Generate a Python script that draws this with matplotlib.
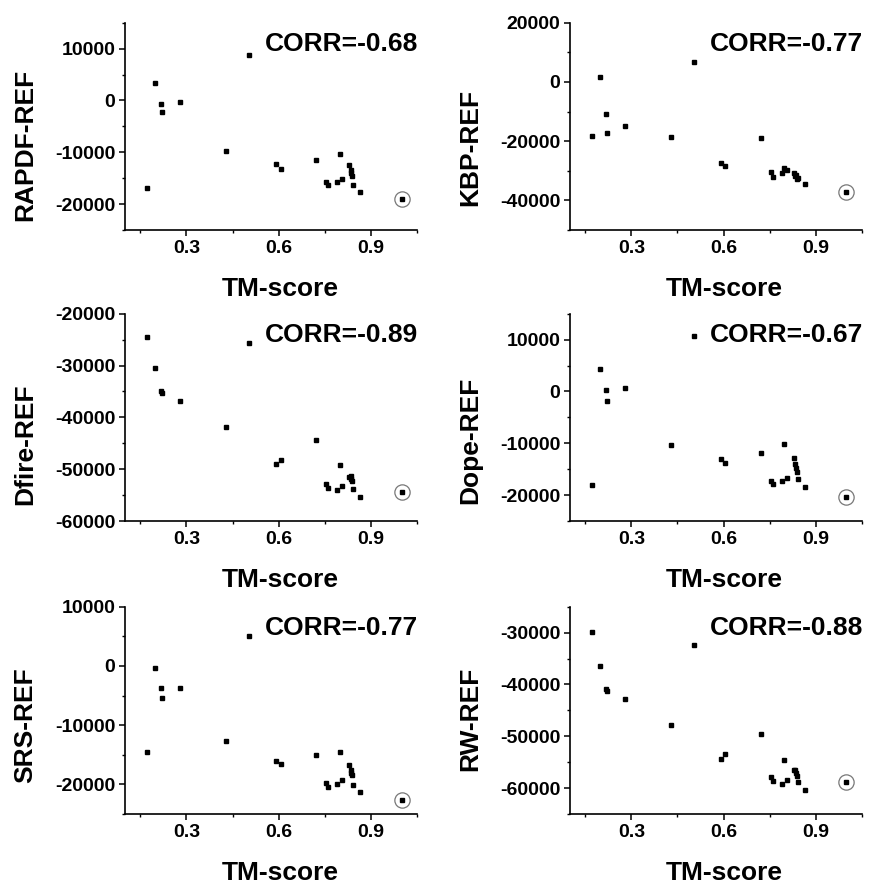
import matplotlib
matplotlib.use("Agg")
import matplotlib.pyplot as plt
from matplotlib.ticker import MultipleLocator

plt.rcParams['font.family'] = ['Liberation Sans', 'DejaVu Sans']
plt.rcParams['font.weight'] = 'bold'
plt.rcParams['axes.unicode_minus'] = False

# TM-score of each decoy (last one is the native structure, circled)
tm_score = [0.173, 0.198, 0.218, 0.220, 0.279, 0.429, 0.504, 0.591, 0.606, 0.723, 0.798,
            0.754, 0.761, 0.789, 0.805, 0.828, 0.834, 0.836, 0.838, 0.841, 0.866, 1.000]

rapdf = [-16800, 3430, -775, -2200, -330, -9820, 8720, -12340, -13240, -11430, -10330,
         -15830, -16340, -15700, -15180, -12530, -13500, -14000, -14670, -16280, -17640, -18990]
kbp = [-18350, 1570, -10840, -17120, -14880, -18680, 6600, -27520, -28530, -19020, -29200,
       -30310, -32100, -30880, -29800, -30880, -31770, -31500, -32890, -32300, -34570, -37250]
dfire = [-24410, -30490, -34840, -35360, -36760, -41880, -25690, -48920, -48280, -44310, -49170,
         -52890, -53720, -54040, -53200, -51480, -51350, -51800, -52370, -53850, -55320, -54480]
dope = [-17990, 4260, 190, -1780, 640, -10360, 10680, -13100, -13860, -11820, -10040,
        -17230, -17800, -17230, -16720, -12840, -13990, -14750, -15510, -16910, -18500, -20340]
srs = [-14570, -390, -3810, -5430, -3810, -12660, 5040, -16080, -16640, -14960, -14570,
       -19720, -20450, -19890, -19330, -16810, -17650, -18000, -18490, -20060, -21340, -22580]
rw = [-29870, -36510, -40850, -41360, -42890, -47740, -32430, -54380, -53480, -49590, -54510,
      -57950, -58590, -59230, -58400, -56480, -56550, -57000, -57760, -58850, -60440, -58780]

ylabels = ["RAPDF-REF", "KBP-REF", "Dfire-REF", "Dope-REF", "SRS-REF", "RW-REF"]
corr = ["-0.68", "-0.77", "-0.89", "-0.67", "-0.77", "-0.88"]
series = [rapdf, kbp, dfire, dope, srs, rw]

# (ymin, ymax, major step, minor step)
yaxes = [(-25000, 15000, 10000, 5000),
         (-50000, 20000, 20000, 10000),
         (-60000, -20000, 10000, 5000),
         (-25000, 15000, 10000, 5000),
         (-25000, 10000, 10000, 5000),
         (-65000, -25000, 10000, 5000)]
ylabel_y = [0.41, 0.40, 0.37, 0.39, 0.43, 0.46]

fig = plt.figure(figsize=(8.7, 8.84), dpi=100)

lefts = [0.1437, 0.655]
bottoms = [0.7398, 0.4106, 0.0792]
w, h = 0.3356, 0.2345

for i in range(6):
    row, col = i // 2, i % 2
    ax = fig.add_axes([lefts[col], bottoms[row], w, h])
    y = series[i]
    ax.plot(tm_score, y, 's', color='black', markersize=3.5, linestyle='none')
    # circle around the native
    ax.plot(tm_score[-1], y[-1], 'o', markersize=11, markerfacecolor='none',
            markeredgecolor='#777777', markeredgewidth=0.9)

    ymin, ymax, major, minor = yaxes[i]
    ax.set_ylim(ymin, ymax)
    ax.set_xlim(0.1, 1.05)
    ax.set_xticks([0.3, 0.6, 0.9])
    ax.set_xticklabels(["0.3", "0.6", "0.9"])
    ax.xaxis.set_minor_locator(MultipleLocator(0.15))
    ax.yaxis.set_major_locator(MultipleLocator(major))
    ax.yaxis.set_minor_locator(MultipleLocator(minor))

    for s in ['top', 'right']:
        ax.spines[s].set_visible(False)
    for s in ['left', 'bottom']:
        ax.spines[s].set_linewidth(1.2)

    ax.tick_params(which='major', length=4, width=1.1, labelsize=14, pad=3)
    ax.tick_params(which='minor', length=2.5, width=1.0)
    for lab in ax.get_xticklabels() + ax.get_yticklabels():
        lab.set_fontweight('bold')

    ax.set_xlabel("TM-score", fontsize=19, fontweight='bold')
    ax.xaxis.set_label_coords(0.53, -0.225)
    ax.set_ylabel(ylabels[i], fontsize=19, fontweight='bold')
    ax.yaxis.set_label_coords(-0.30, ylabel_y[i])

    ax.text(0.48, 0.865, "CORR=" + corr[i], transform=ax.transAxes,
            fontsize=19, fontweight='bold', va='baseline', ha='left')

fig.savefig("out.png", dpi=100)
